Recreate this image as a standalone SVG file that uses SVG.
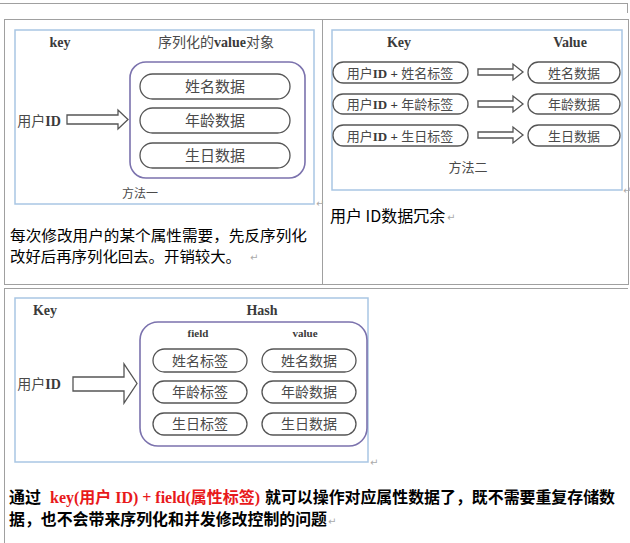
<svg xmlns="http://www.w3.org/2000/svg" width="630" height="543" viewBox="0 0 630 543">
<style>
.tl{stroke:#a0a0a0;stroke-width:1;fill:none}
.frame{fill:#fff;stroke:#a9c6e4;stroke-width:1.5}
.grp{fill:none;stroke:#7b72ad;stroke-width:1.6}
.pill{fill:#fff;stroke:#555;stroke-width:1.3}
.arr{fill:#fff;stroke:#555;stroke-width:1.3;stroke-linejoin:miter}
.lat{font-family:"Liberation Serif",serif;font-weight:bold;fill:#3a3a3a}
.cn{font-family:"Noto Sans CJK SC","Liberation Sans",sans-serif;fill:#4a4a4a}
.body{font-family:"Noto Sans CJK SC","Liberation Sans",sans-serif;fill:#000;font-size:16px}
.ret{font-family:"DejaVu Sans",sans-serif;fill:#aaa;font-size:10px}
</style>
<rect width="630" height="543" fill="#fff"/>
<g id="table-lines">
<line class="tl" x1="0" y1="3.5" x2="628" y2="3.5"/>
<line class="tl" x1="627.5" y1="3.5" x2="627.5" y2="13"/>
<rect class="tl" x="4.5" y="19.5" width="624" height="265"/>
<line class="tl" x1="322.5" y1="19.5" x2="322.5" y2="284.5"/>
<line class="tl" x1="4" y1="288.5" x2="628" y2="288.5"/>
<line class="tl" x1="4.5" y1="288.5" x2="4.5" y2="543"/>
</g>

<g id="method1">
<rect class="frame" x="15" y="30" width="299" height="174"/>
<text class="lat" x="60" y="47" font-size="14" text-anchor="middle">key</text>
<text x="216" y="47" font-size="14" text-anchor="middle"><tspan class="cn" font-size="14">序列化的</tspan><tspan class="lat">value</tspan><tspan class="cn">对象</tspan></text>
<text class="cn" x="39" y="126" font-size="14" text-anchor="middle">用户<tspan class="lat">ID</tspan></text>
<rect class="grp" x="130" y="62" width="175" height="116" rx="16"/>
<g id="m1-name"><rect class="pill" x="140" y="74" width="150" height="25" rx="12.5"/><text class="cn" x="215" y="92" font-size="15" text-anchor="middle">姓名数据</text></g>
<g id="m1-age"><rect class="pill" x="140" y="108" width="150" height="25" rx="12.5"/><text class="cn" x="215" y="126" font-size="15" text-anchor="middle">年龄数据</text></g>
<g id="m1-birth"><rect class="pill" x="140" y="143" width="150" height="25" rx="12.5"/><text class="cn" x="215" y="161" font-size="15" text-anchor="middle">生日数据</text></g>
<text class="cn" x="140" y="198" font-size="12" text-anchor="middle">方法一</text>
<text class="ret" x="316" y="207">↵</text>
</g>

<g id="panel1-text">
<text class="body" x="10" y="240.5" font-size="15" style="font-size:15px" textLength="297" lengthAdjust="spacingAndGlyphs">每次修改用户的某个属性需要，先反序列化</text>
<text class="body" x="10" y="262" style="font-size:15px" textLength="231" lengthAdjust="spacingAndGlyphs">改好后再序列化回去。开销较大。</text>
<text class="ret" x="250" y="261">↵</text>
</g>

<g id="method2">
<rect class="frame" x="332" y="30" width="290" height="160"/>
<text class="lat" x="399" y="47" font-size="14" text-anchor="middle">Key</text>
<text class="lat" x="570" y="47" font-size="14" text-anchor="middle">Value</text>
<g id="m2-k1"><rect class="pill" x="333" y="62" width="135" height="21" rx="10.5"/><text class="cn" x="400" y="77.5" font-size="13" text-anchor="middle">用户<tspan class="lat">ID + </tspan>姓名标签</text></g>
<g id="m2-k2"><rect class="pill" x="333" y="94" width="135" height="20" rx="10"/><text class="cn" x="400" y="109" font-size="13" text-anchor="middle">用户<tspan class="lat">ID + </tspan>年龄标签</text></g>
<g id="m2-k3"><rect class="pill" x="333" y="125" width="135" height="21" rx="10.5"/><text class="cn" x="400" y="140.5" font-size="13" text-anchor="middle">用户<tspan class="lat">ID + </tspan>生日标签</text></g>
<g id="m2-v1"><rect class="pill" x="528" y="62" width="92" height="21" rx="10.5"/><text class="cn" x="574" y="77.5" font-size="13" text-anchor="middle">姓名数据</text></g>
<g id="m2-v2"><rect class="pill" x="528" y="94" width="92" height="20" rx="10"/><text class="cn" x="574" y="109" font-size="13" text-anchor="middle">年龄数据</text></g>
<g id="m2-v3"><rect class="pill" x="528" y="125" width="92" height="21" rx="10.5"/><text class="cn" x="574" y="140.5" font-size="13" text-anchor="middle">生日数据</text></g>
<text class="cn" x="468" y="172" font-size="13" text-anchor="middle">方法二</text>
<text class="ret" x="623" y="194">↵</text>
</g>

<g id="panel2-text">
<text class="body" x="330" y="222">用户 ID数据冗余</text>
<text class="ret" x="447" y="221">↵</text>
</g>

<g id="method3">
<rect class="frame" x="15" y="298" width="353" height="164"/>
<text class="lat" x="45" y="315" font-size="14" text-anchor="middle">Key</text>
<text class="lat" x="262" y="315" font-size="14" text-anchor="middle">Hash</text>
<text class="cn" x="39" y="389" font-size="14" text-anchor="middle">用户<tspan class="lat">ID</tspan></text>
<rect class="grp" x="140" y="322" width="227" height="124" rx="18"/>
<text class="lat" x="198" y="337" font-size="11" text-anchor="middle">field</text>
<text class="lat" x="305" y="337" font-size="11" text-anchor="middle">value</text>
<g id="h-f1"><rect class="pill" x="153" y="349" width="94" height="23" rx="11.5"/><text class="cn" x="200" y="366" font-size="14" text-anchor="middle">姓名标签</text></g>
<g id="h-f2"><rect class="pill" x="153" y="381" width="94" height="22" rx="11"/><text class="cn" x="200" y="397" font-size="14" text-anchor="middle">年龄标签</text></g>
<g id="h-f3"><rect class="pill" x="153" y="413" width="94" height="22" rx="11"/><text class="cn" x="200" y="429" font-size="14" text-anchor="middle">生日标签</text></g>
<g id="h-v1"><rect class="pill" x="262" y="349" width="94" height="23" rx="11.5"/><text class="cn" x="309" y="366" font-size="14" text-anchor="middle">姓名数据</text></g>
<g id="h-v2"><rect class="pill" x="262" y="381" width="94" height="22" rx="11"/><text class="cn" x="309" y="397" font-size="14" text-anchor="middle">年龄数据</text></g>
<g id="h-v3"><rect class="pill" x="262" y="413" width="94" height="22" rx="11"/><text class="cn" x="309" y="429" font-size="14" text-anchor="middle">生日数据</text></g>
<text class="ret" x="370" y="466">↵</text>
</g>

<g id="connectors">
<polygon class="arr" points="67,115 118,115 118,110 128,119.5 118,129 118,124 67,124"/>
<polygon class="arr" points="478,69 513,69 513,64 523,72 513,80 513,75 478,75"/>
<polygon class="arr" points="478,101 513,101 513,96 523,104 513,112 513,107 478,107"/>
<polygon class="arr" points="478,132 513,132 513,127 523,135 513,143 513,138 478,138"/>
<polygon class="arr" points="73,377 124,377 124,364 137,383.5 124,403 124,391 73,391"/>
</g>

<g id="bottom-text">
<text class="body" x="9" y="503" font-weight="bold">通过</text>
<text x="50" y="503" font-family="Liberation Serif,serif" font-weight="bold" font-size="16" fill="#e8191b" textLength="210" lengthAdjust="spacingAndGlyphs">key(<tspan font-family="Noto Sans CJK SC,sans-serif">用户</tspan> ID) + field(<tspan font-family="Noto Sans CJK SC,sans-serif">属性标签</tspan>)</text>
<text class="body" x="265" y="503" font-weight="bold" textLength="350" lengthAdjust="spacingAndGlyphs">就可以操作对应属性数据了，既不需要重复存储数</text>
<text class="body" x="9" y="525" font-weight="bold" textLength="318" lengthAdjust="spacingAndGlyphs">据，也不会带来序列化和并发修改控制的问题</text>
<text class="ret" x="328" y="525">↵</text>
</g>
</svg>
